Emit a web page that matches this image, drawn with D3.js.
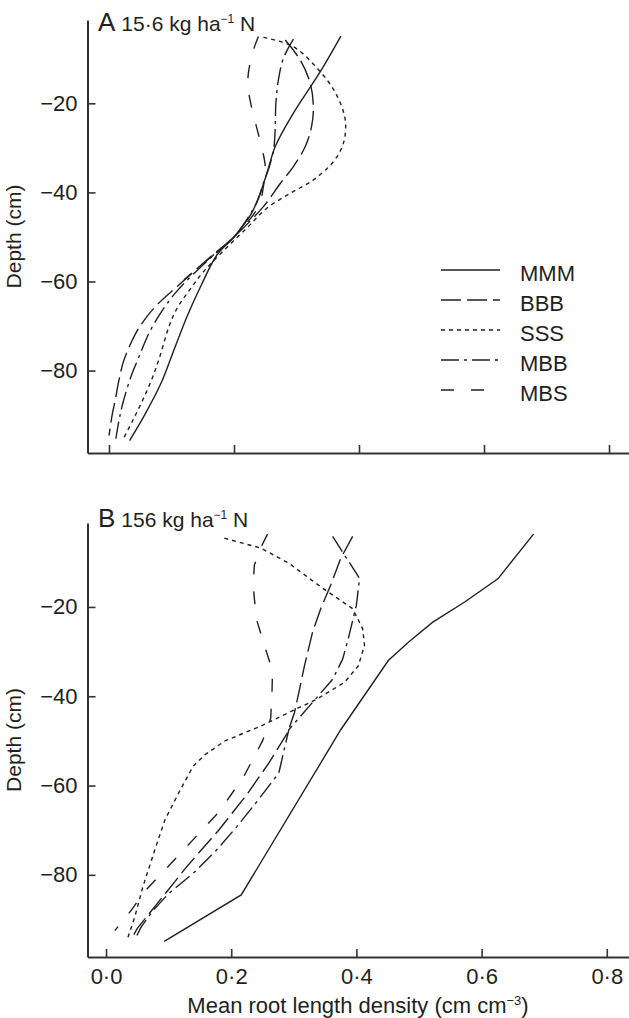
<!DOCTYPE html>
<html>
<head>
<meta charset="utf-8">
<script src="https://cdn.jsdelivr.net/npm/d3@7"></script>
<style>
  body { margin: 0; background: #fff; }
  text { font-family: "Liberation Sans", Arial, sans-serif; fill: #231f20; }
</style>
</head>
<body>
<script>
// treatments (legend order)
const treatments = ["MMM", "BBB", "SSS", "MBB", "MBS"]
const depthTicks = [-20, -40, -60, -80]
const rldTicks = [0, 0.2, 0.4, 0.6, 0.8]

// panel A : 15.6 kg ha-1 N   -> [depth (cm), root length density]
const mmmA = [[-4.9, 0.371], [-12.9, 0.338], [-22.2, 0.295], [-29.7, 0.266], [-34.6, 0.255], [-40.2, 0.242], [-44.7, 0.228], [-50, 0.2], [-54, 0.173], [-61, 0.147], [-67.8, 0.125], [-76.1, 0.102], [-82.9, 0.083], [-89.7, 0.058], [-95.7, 0.033]]
const bbbA = [[-5.8, 0.282], [-10.3, 0.306], [-15.5, 0.322], [-20.8, 0.327], [-25.3, 0.324], [-29.7, 0.314], [-34.2, 0.295], [-38, 0.274], [-43.2, 0.247], [-50, 0.2], [-55, 0.158], [-61, 0.11], [-64.8, 0.08], [-68, 0.06], [-71.6, 0.043], [-77.6, 0.024], [-82.1, 0.016], [-86.6, 0.01], [-90, 0.005], [-94.6, 0.0]]
const sssA = [[-5.2, 0.247], [-7.3, 0.295], [-12.9, 0.338], [-18.1, 0.364], [-23.7, 0.378], [-29, 0.375], [-33.1, 0.359], [-37.2, 0.327], [-40.2, 0.29], [-43.6, 0.252], [-47.8, 0.222], [-52.7, 0.186], [-58, 0.15], [-62.1, 0.128], [-66, 0.109], [-70.1, 0.096], [-76.1, 0.083], [-81.4, 0.07], [-86.6, 0.054], [-91.2, 0.038], [-95.6, 0.022]]
const mbbA = [[-5.6, 0.295], [-9.9, 0.279], [-14.8, 0.271], [-20, 0.267], [-25.3, 0.266], [-29.7, 0.264], [-33.5, 0.258], [-38, 0.247], [-42.4, 0.236], [-50, 0.2], [-55, 0.16], [-62.1, 0.109], [-67, 0.083], [-71.6, 0.064], [-76.9, 0.048], [-81.4, 0.035], [-87.4, 0.022], [-91.2, 0.016], [-95.3, 0.011]]
const mbsA = [[-5, 0.239], [-9.5, 0.228], [-15.5, 0.222], [-20.8, 0.228], [-25.3, 0.236], [-29.7, 0.244], [-34.2, 0.25], [-38.7, 0.247], [-43.2, 0.239], [-50, 0.2], [-54.9, 0.16], [-59.6, 0.12]]

// panel B : 156 kg ha-1 N
const mmmB = [[-3.7, 0.683], [-13.7, 0.626], [-18.9, 0.573], [-23.4, 0.522], [-27.9, 0.483], [-32, 0.451], [-47.5, 0.375], [-84.5, 0.216], [-94.9, 0.093]]
const bbbB = [[-4.2, 0.394], [-9.1, 0.375], [-15.1, 0.359], [-20.4, 0.343], [-25.6, 0.33], [-33.2, 0.317], [-39.2, 0.308], [-43.7, 0.301], [-48.2, 0.29], [-55, 0.26], [-62, 0.225], [-70, 0.18], [-78, 0.13], [-85, 0.09], [-92, 0.05], [-94.5, 0.04]]
const sssB = [[-4.6, 0.189], [-6.8, 0.247], [-10.2, 0.292], [-15.5, 0.343], [-20.4, 0.394], [-24.9, 0.41], [-28.6, 0.413], [-33.2, 0.403], [-36.9, 0.381], [-40.7, 0.336], [-46.7, 0.247], [-50, 0.19], [-53.1, 0.158], [-55.7, 0.139], [-61.4, 0.117], [-67.7, 0.094], [-74.4, 0.078], [-82.6, 0.059], [-89.4, 0.046], [-94, 0.035]]
const mbbB = [[-4.2, 0.362], [-13.6, 0.405], [-19.6, 0.4], [-27.1, 0.387], [-31.7, 0.378], [-36.2, 0.362], [-47.5, 0.292], [-57.2, 0.276], [-63.6, 0.241], [-69.2, 0.209], [-74.4, 0.177], [-79.7, 0.139], [-84.2, 0.1], [-88, 0.075], [-91.7, 0.056], [-94.5, 0.046]]
const mbsB = [[-3.7, 0.258], [-6.8, 0.247], [-10.6, 0.237], [-15.1, 0.235], [-22.6, 0.24], [-28.6, 0.253], [-34.3, 0.266], [-40, 0.265], [-45, 0.263], [-50, 0.25], [-58, 0.22], [-66, 0.18], [-72, 0.14], [-78, 0.1], [-84, 0.06], [-88, 0.04], [-92.5, 0.014]]

const dashes = { MMM: null, BBB: "20,6", SSS: "4,4", MBB: "18,5,3,5", MBS: "13,17" }

const svg = d3.select("body").append("svg")
    .attr("width", 629)
    .attr("height", 1018)

const panels = [
    { label: "A", dose: "15·6", series: [mmmA, bbbA, sssA, mbbA, mbsA], smooth: true,
      x: d3.scaleLinear().domain([-0.0344, 0.832]).range([87.5, 629]),
      y: d3.scaleLinear().domain([-98.5, -1.3]).range([453, 20]),
      labelY: 31, showTicks: false, legend: true },
    { label: "B", dose: "156", series: [mmmB, bbbB, sssB, mbbB, mbsB], smooth: false,
      x: d3.scaleLinear().domain([-0.0296, 0.8355]).range([87.5, 629]),
      y: d3.scaleLinear().domain([-98.4, -1.2]).range([957, 523]),
      labelY: 527, showTicks: true, legend: false }
]

panels.forEach(p => {
    const g = svg.append("g")

    // y axis
    const yAxis = g.append("g")
        .attr("transform", "translate(87.5,0)")
        .call(d3.axisLeft(p.y).tickValues(depthTicks).tickSizeInner(-8).tickSizeOuter(0).tickPadding(10))
    // x axis
    const xAxis = g.append("g")
        .attr("transform", "translate(0," + p.y.range()[0] + ")")
        .call(d3.axisBottom(p.x).tickValues(rldTicks).tickSizeInner(-8).tickSizeOuter(0).tickPadding(11)
            .tickFormat(d => p.showTicks ? d.toFixed(1).replace(".", "·") : ""))

    ;[yAxis, xAxis].forEach(a => {
        a.select(".domain").attr("stroke", "#333").attr("stroke-width", 2)
        a.selectAll(".tick line").attr("stroke", "#333").attr("stroke-width", 1.6)
        a.selectAll("text").style("font-size", "22px").attr("fill", "#231f20")
    })

    // y title
    g.append("text")
        .attr("transform", "translate(21," + (p.y.range()[0] + p.y.range()[1]) / 2 + ") rotate(-90)")
        .attr("text-anchor", "middle")
        .style("font-size", "21px")
        .text("Depth (cm)")

    // panel label
    const t = g.append("text").attr("x", 98).attr("y", p.labelY).style("font-size", "21px")
    t.append("tspan").style("font-size", "26px").text(p.label)
    t.append("tspan").attr("dx", 6).text(p.dose + " kg ha")
    t.append("tspan").attr("dy", -8).style("font-size", "12px").text("−1")
    t.append("tspan").attr("dy", 8).text(" N")

    // lines
    const line = d3.line()
        .x(d => p.x(d[1]))
        .y(d => p.y(d[0]))
        .curve(p.smooth ? d3.curveCatmullRom.alpha(0.5) : d3.curveLinear)

    p.series.forEach((s, i) => {
        g.append("path")
            .datum(s)
            .attr("d", line)
            .attr("fill", "none")
            .attr("stroke", "#231f20")
            .attr("stroke-width", 1.4)
            .attr("stroke-dasharray", dashes[treatments[i]])
    })

    // legend
    if (p.legend) {
        const lg = g.append("g")
        treatments.forEach((name, i) => {
            const cy = 273 + i * 30
            lg.append("line")
                .attr("x1", 441).attr("x2", 500)
                .attr("y1", cy - 3).attr("y2", cy - 3)
                .attr("stroke", "#231f20")
                .attr("stroke-width", 1.4)
                .attr("stroke-dasharray", dashes[name])
            lg.append("text")
                .attr("x", 520).attr("y", cy + 8)
                .style("font-size", "22px")
                .text(name)
        })
    }
})

// x title
const xt = svg.append("text")
    .attr("x", 358).attr("y", 1013)
    .attr("text-anchor", "middle")
    .style("font-size", "22px")
xt.append("tspan").text("Mean root length density (cm cm")
xt.append("tspan").attr("dy", -8).style("font-size", "13px").text("−3")
xt.append("tspan").attr("dy", 8).text(")")
</script>
</body>
</html>
